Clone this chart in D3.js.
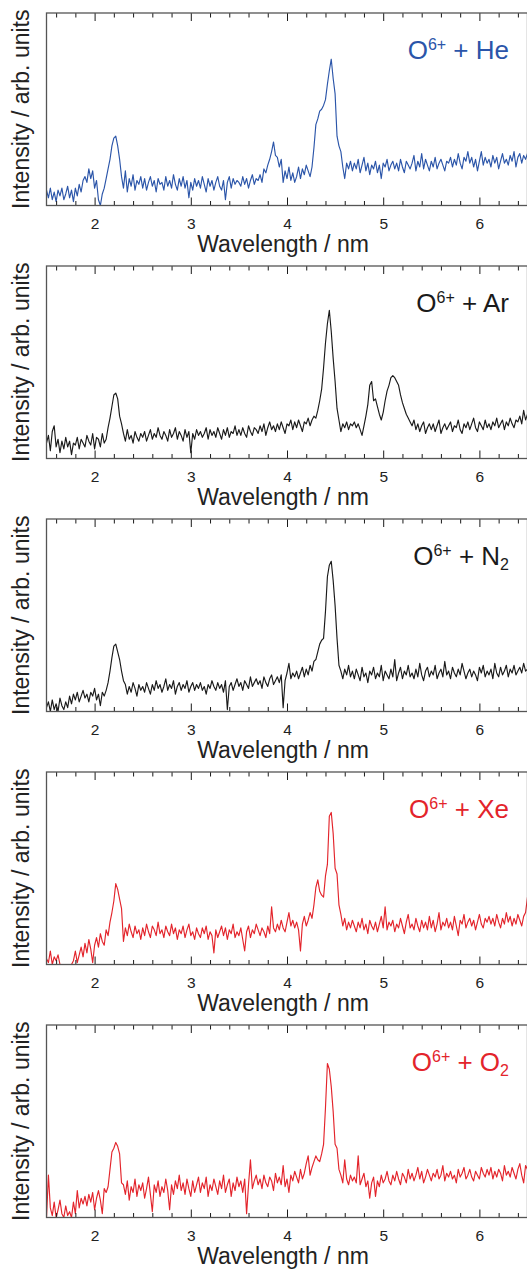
<!DOCTYPE html>
<html>
<head>
<meta charset="utf-8">
<script src="https://cdn.jsdelivr.net/npm/d3@7"></script>
<style>
  body { margin: 0; background: #fff; }
  svg { display: block; }
  text { font-family: "Liberation Sans", Arial, Helvetica, sans-serif; }
</style>
</head>
<body>
<script>
// Wavelength sampling grid of the spectra (nm)
const waveStart = 1.5;
const waveStep = 0.02;

// Axis ticks
const majorTicks = [2, 3, 4, 5, 6];
const minorTicks = [1.6, 1.8, 2.2, 2.4, 2.6, 2.8, 3.2, 3.4, 3.6, 3.8, 4.2, 4.4, 4.6, 4.8,
                    5.2, 5.4, 5.6, 5.8, 6.2, 6.4];

// Emission intensity (arb. units, 0-100 full panel height), one value per grid point
const heValues = [
  8,4,9,3,7,2,8,5,9,3,
  6,10,4,8,2,9,5,11,7,13,
  15,12,19,14,18,9,13,3,0,6,
  9,14,19,24,31,35,36,31,24,15,
  9,18,7,14,10,16,8,13,11,15,
  9,14,8,12,15,10,13,7,14,11,
  12,8,15,10,13,9,16,11,8,14,
  10,15,9,13,4,12,8,14,10,13,
  9,15,11,7,14,10,13,8,12,15,
  10,8,13,3,12,15,9,14,11,13,
  12,10,15,11,14,9,13,16,11,14,
  13,16,12,19,17,21,24,28,33,26,
  25,20,24,12,18,14,20,13,17,12,
  15,20,14,19,16,21,18,15,20,30,
  42,45,49,50,52,55,63,70,76,66,
  58,36,31,28,20,14,22,19,23,18,
  22,19,24,17,21,25,18,22,16,21,
  19,23,17,21,14,22,20,24,18,21,
  23,19,22,18,24,20,17,23,21,19,
  22,26,18,23,20,27,19,24,21,18,
  23,20,25,19,22,24,21,18,23,22,
  25,20,24,21,27,22,19,25,23,28,
  22,25,20,24,18,23,28,21,25,22,
  24,20,26,22,25,19,23,27,22,24,
  21,26,23,28,20,25,27,22,26,24,27
];

const arValues = [
  8,12,4,14,17,6,10,3,9,5,
  11,6,9,2,8,7,11,5,10,8,
  6,12,9,7,13,5,11,10,6,13,
  8,10,16,21,27,33,34,31,22,18,
  13,9,15,10,12,8,14,11,9,13,
  11,14,9,12,15,10,13,11,16,12,
  10,14,12,9,15,11,13,16,10,14,
  12,9,15,11,14,3,13,10,15,12,
  14,11,13,16,10,15,12,14,11,16,
  13,10,15,12,16,11,14,13,17,12,
  15,12,16,13,11,17,14,12,16,15,
  13,17,14,18,12,16,19,15,17,14,
  18,15,19,16,13,18,17,20,15,19,
  16,20,17,14,19,18,21,17,20,22,
  21,25,30,36,47,60,70,77,66,52,
  40,26,20,14,18,16,19,15,18,17,
  19,16,18,15,12,17,22,28,38,40,
  30,31,27,23,20,24,30,35,38,42,
  43,42,40,38,33,29,26,23,21,19,
  17,20,15,18,14,17,19,13,16,18,
  15,18,14,17,20,13,16,18,15,17,
  19,14,17,16,20,15,13,18,16,19,
  15,18,21,16,14,19,17,15,20,16,
  18,15,19,17,21,16,18,20,15,19,
  17,21,18,16,20,19,22,18,25,20,23
];

const n2Values = [
  2,5,0,6,1,4,0,7,3,1,
  5,2,8,4,9,6,10,5,8,11,
  7,9,5,10,8,12,6,9,3,10,
  8,11,15,21,28,34,35,31,27,21,
  16,14,9,13,10,15,12,8,14,11,
  13,10,15,12,9,14,11,16,12,14,
  10,13,17,11,14,12,16,9,13,15,
  11,14,12,16,10,13,15,11,14,12,
  15,11,13,9,14,12,16,13,11,15,
  12,14,10,16,1,13,15,11,14,17,
  13,15,11,16,14,12,18,13,15,17,
  14,16,12,18,15,13,17,19,14,16,
  18,15,19,2,16,20,25,17,20,18,
  21,17,20,23,18,22,19,24,21,26,
  27,31,35,37,38,52,70,76,78,68,
  55,38,24,21,17,22,19,24,18,21,
  17,22,19,16,23,18,20,15,21,19,
  23,17,20,18,24,16,21,19,17,22,
  18,27,16,20,23,17,21,19,24,18,
  20,17,22,18,25,19,16,21,23,18,
  21,19,24,17,20,22,18,26,19,21,
  17,23,20,18,22,19,25,21,17,20,
  22,18,21,19,16,23,20,24,18,21,
  19,22,17,25,20,18,23,19,21,24,
  18,22,20,24,19,21,23,20,25,21,22
];

const xeValues = [
  3,1,7,0,4,2,5,0,0,0,
  0,0,0,0,2,7,1,5,9,4,
  11,6,13,8,1,10,14,9,16,12,
  10,18,15,22,27,33,42,39,34,29,
  12,19,15,21,17,14,20,16,18,13,
  19,15,21,17,14,20,18,15,22,16,
  18,14,20,17,15,21,16,19,13,18,
  16,20,14,18,21,15,17,13,19,16,
  14,19,16,20,13,17,15,6,18,14,
  17,20,15,19,13,18,16,21,14,17,
  15,19,13,7,17,20,14,18,16,21,
  18,15,19,17,14,20,16,30,19,17,
  21,18,23,19,17,22,27,20,23,19,
  22,18,7,21,25,20,23,27,24,31,
  40,44,38,36,35,46,52,77,79,68,
  50,47,31,26,20,24,18,22,19,23,
  20,17,22,19,24,18,21,16,23,20,
  18,22,17,21,25,19,30,18,22,20,
  23,17,21,19,24,20,16,22,26,19,
  21,18,24,20,17,23,19,22,18,25,
  19,23,17,21,27,18,22,20,24,19,
  22,18,25,20,15,23,21,26,19,22,
  24,20,23,18,22,26,21,19,24,22,
  25,21,24,20,26,22,19,24,21,27,
  22,25,20,24,21,26,23,20,25,27,35
];

const o2Values = [
  0,22,5,1,8,0,4,9,2,0,
  6,1,3,0,8,2,14,5,10,7,
  11,6,12,8,13,4,10,14,9,2,
  15,13,16,25,34,36,39,37,33,18,
  17,12,19,9,16,13,20,11,17,14,
  18,10,15,21,12,3,17,13,19,11,
  16,13,20,14,4,17,12,19,15,22,
  14,18,12,20,15,11,19,13,17,21,
  13,18,15,21,11,17,14,20,16,12,
  19,15,22,13,17,20,11,18,14,21,
  16,19,13,20,2,17,30,15,19,22,
  17,20,15,22,18,16,21,19,14,23,
  18,21,17,27,16,20,13,22,19,24,
  21,18,25,20,23,28,32,22,26,29,
  32,30,29,33,38,57,80,77,68,55,
  38,36,25,22,18,30,20,17,22,19,
  21,18,32,17,20,23,16,19,10,18,
  21,11,19,16,22,18,20,24,19,17,
  22,19,24,20,17,23,21,18,25,20,
  23,19,22,26,20,24,18,21,25,22,
  19,23,21,25,20,22,27,19,23,21,
  24,20,22,18,25,21,23,26,20,22,
  25,21,19,24,22,20,26,23,21,25,
  22,26,20,24,21,25,23,19,27,22,
  24,21,26,23,20,25,28,22,18,27,25
];

// Collision partner of each panel, its subscript and colour
const targets = ["He", "Ar", "N", "Xe", "O"];
const targetSubscripts = ["", "", "2", "", "2"];
const colors = ["#2b55a9", "#1a1a1a", "#1a1a1a", "#e3242b", "#e3242b"];
const series = [heValues, arValues, n2Values, xeValues, o2Values];

const width = 527, height = 1270;
const plotLeft = 46.5, plotRight = 527.5;
const firstTop = 13, panelStep = 253, panelHeight = 192.5;

const svg = d3.select("body").append("svg")
  .attr("width", width).attr("height", height);

const x = d3.scaleLinear().domain([1.5, 6.5]).range([plotLeft, plotRight]);

series.forEach((values, k) => {
  const top = firstTop + k * panelStep;
  const bottom = top + panelHeight;
  const y = d3.scaleLinear().domain([0, 100]).range([bottom, top]);
  const g = svg.append("g");

  const clipId = "clip" + k;
  svg.append("clipPath").attr("id", clipId)
    .append("rect")
    .attr("x", plotLeft).attr("y", top)
    .attr("width", plotRight - plotLeft).attr("height", panelHeight);

  const pts = values.map((v, i) => [waveStart + i * waveStep, v]);
  const line = d3.line().x(d => x(d[0])).y(d => y(d[1]));

  g.append("path")
    .datum(pts)
    .attr("clip-path", `url(#${clipId})`)
    .attr("fill", "none")
    .attr("stroke", colors[k])
    .attr("stroke-width", 1.15)
    .attr("stroke-linejoin", "round")
    .attr("d", line);

  // inward-pointing ticks on bottom and top edges
  const addAxis = (axisFn, yPos, ticks, size, labels) => {
    const ax = axisFn(x).tickValues(ticks).tickSizeInner(-size).tickSizeOuter(0)
      .tickPadding(12.5)
      .tickFormat(labels ? d3.format("d") : "");
    const a = g.append("g").attr("transform", `translate(0,${yPos})`).call(ax);
    a.select(".domain").remove();
    a.selectAll(".tick line").attr("stroke", "#1a1a1a").attr("stroke-width", 1);
    a.selectAll(".tick text")
      .attr("fill", "#222").style("font-size", "15.5px")
      .style("font-family", '"Liberation Sans", Arial, sans-serif');
  };
  addAxis(d3.axisBottom, bottom, majorTicks, 8, true);
  addAxis(d3.axisBottom, bottom, minorTicks, 4.5, false);
  addAxis(d3.axisTop, top, majorTicks, 8, false);
  addAxis(d3.axisTop, top, minorTicks, 4.5, false);

  // frame
  g.append("rect")
    .attr("x", plotLeft).attr("y", top)
    .attr("width", plotRight - plotLeft).attr("height", panelHeight)
    .attr("fill", "none").attr("stroke", "#555").attr("stroke-width", 1.3);

  // axis titles
  g.append("text")
    .attr("x", (plotLeft + plotRight) / 2 - 4)
    .attr("y", bottom + 46)
    .attr("text-anchor", "middle")
    .attr("fill", "#222")
    .style("font-size", "23px")
    .text("Wavelength / nm");

  g.append("text")
    .attr("transform", `translate(29,${(top + bottom) / 2}) rotate(-90)`)
    .attr("text-anchor", "middle")
    .attr("fill", "#222")
    .style("font-size", "23px")
    .text("Intensity / arb. units");

  // reaction label, e.g. O^6+ + N_2
  const lab = g.append("text")
    .attr("x", 509).attr("y", top + 46)
    .attr("text-anchor", "end")
    .attr("fill", colors[k])
    .style("font-size", "26px");
  lab.append("tspan").text("O");
  lab.append("tspan").attr("dy", -9.5).style("font-size", "16px").text("6+");
  lab.append("tspan").attr("dy", 9.5).text(" + " + targets[k]);
  if (targetSubscripts[k]) {
    lab.append("tspan").attr("dy", 5).style("font-size", "16px").text(targetSubscripts[k]);
  }
});
</script>
</body>
</html>
